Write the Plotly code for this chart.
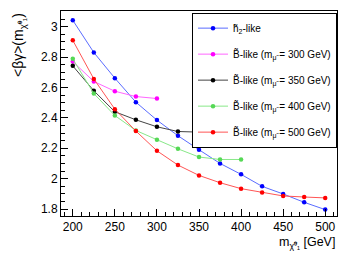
import plotly.graph_objects as go

mass = [200, 225, 250, 275, 300, 325, 350, 375, 400, 425, 450, 475, 500]

higgsino = [3.042, 2.83, 2.661, 2.503, 2.385, 2.282, 2.19, 2.10, 2.028, 1.949, 1.899, 1.844, 1.796]
bino300 = [2.77, 2.639, 2.575, 2.54, 2.527]
bino350 = [2.742, 2.578, 2.44, 2.387, 2.341, 2.31, 2.306]
bino400 = [2.788, 2.56, 2.415, 2.317, 2.256, 2.196, 2.142, 2.126, 2.126]
bino500 = [2.91, 2.656, 2.457, 2.313, 2.183, 2.089, 2.021, 1.973, 1.934, 1.909, 1.886, 1.879, 1.873]

names = [
    "h\u0303<sub>2</sub>-like",
    "B\u0303-like (m<sub>\u03bc\u0303</sub> = 300 GeV)",
    "B\u0303-like (m<sub>\u03bc\u0303</sub> = 350 GeV)",
    "B\u0303-like (m<sub>\u03bc\u0303</sub> = 400 GeV)",
    "B\u0303-like (m<sub>\u03bc\u0303</sub> = 500 GeV)",
]
series = [higgsino, bino300, bino350, bino400, bino500]
colors = ["#0000ff", "#ff00ff", "#000000", "#55d855", "#ff0000"]
linecolors = ["#5a6cff", "#ff66ff", "#444444", "#88e888", "#ff5555"]

fig = go.Figure()
for i, (nm, ys, c, lc) in enumerate(zip(names, series, colors, linecolors)):
    fig.add_trace(go.Scatter(
        x=mass[:len(ys)], y=ys, name=nm, mode="lines+markers",
        line=dict(color=lc, width=1),
        marker=dict(color=c, size=4.5, symbol="circle"),
        legendgroup=f"g{i}",
    ))

font = "Liberation Sans, Arial, sans-serif"
# page body has an 8px default margin; figure sized/margined to compensate
fig.update_layout(
    width=331, height=244,
    margin=dict(l=53, r=2, t=3, b=36),
    paper_bgcolor="white", plot_bgcolor="white",
    font=dict(family=font, size=11, color="black"),
    showlegend=True,
    legend=dict(
        x=1.0, y=0.992, xanchor="right", yanchor="top",
        bordercolor="black", borderwidth=1, bgcolor="white",
        font=dict(size=10, family=font), tracegroupgap=7,
        itemwidth=30,
    ),
    xaxis=dict(
        range=[186, 514], showgrid=False, zeroline=False,
        showline=True, linecolor="black", linewidth=1, mirror=True,
        ticks="inside", ticklen=7, tickcolor="black", dtick=50, tick0=200,
        tickfont=dict(size=12),
        minor=dict(ticks="inside", ticklen=4, dtick=10, tickcolor="black", showgrid=False),
    ),
    yaxis=dict(
        range=[1.754, 3.103], showgrid=False, zeroline=False,
        showline=True, linecolor="black", linewidth=1, mirror=True,
        ticks="inside", ticklen=7, tickcolor="black", dtick=0.2, tick0=1.8,
        tickfont=dict(size=12),
        minor=dict(ticks="inside", ticklen=4, dtick=0.05, tickcolor="black", showgrid=False),
    ),
    annotations=[
        dict(text="&lt;\u03b2\u03b3&gt;(m<sub>\u03c7\u0303\u2070\u2081</sub>)",
             xref="paper", yref="paper", x=-0.152, y=1.0,
             xanchor="center", yanchor="top", textangle=-90,
             showarrow=False, font=dict(size=14)),
        dict(text="m<sub>\u03c7\u0303\u2070\u2081</sub> [GeV]",
             xref="paper", yref="paper", x=1.0, y=-0.085,
             xanchor="right", yanchor="top",
             showarrow=False, font=dict(size=12.5)),
    ],
)

fig.write_html("out.html")
